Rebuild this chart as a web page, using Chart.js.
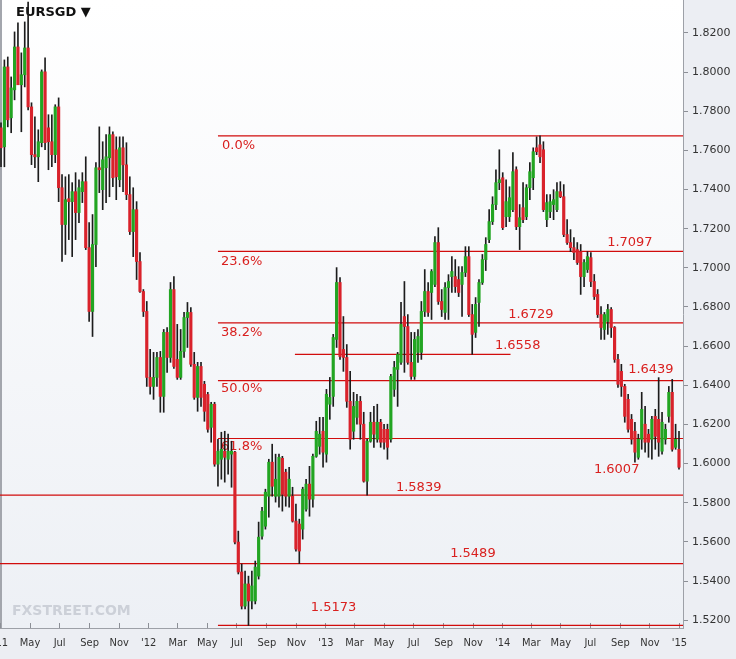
<!DOCTYPE html>
<html><head><meta charset="utf-8">
<script src="https://cdn.jsdelivr.net/npm/chart.js@4.4.1/dist/chart.umd.min.js"></script>
<style>html,body{margin:0;padding:0;background:#eceef3;overflow:hidden}canvas{display:block}</style>
</head><body>
<canvas id="c" width="736" height="659"></canvas>
<script>
// ---- data (weekly EUR/SGD candles) ----
const startDate = '2011-03-02';
const opens = [
1.7715,1.7618,1.8026,1.7766,1.7909,1.8128,1.7935,1.7986,1.8123,1.7822,
1.7578,1.7567,1.7639,1.8001,1.7715,1.7644,1.7578,1.7822,1.7409,1.7221,
1.7353,1.7338,1.7389,1.7282,1.7389,1.7440,1.7103,1.6777,1.7119,1.7511,
1.7399,1.7511,1.7562,1.7680,1.7603,1.7450,1.7613,1.7526,1.7374,1.7185,
1.7297,1.7032,1.6879,1.6777,1.6440,1.6394,1.6440,1.6542,1.6343,1.6670,
1.6542,1.6889,1.6532,1.6440,1.6573,1.6746,1.6772,1.6507,1.6338,1.6496,
1.6405,1.6353,1.6185,1.6303,1.5997,1.6022,1.6063,1.6022,1.6048,1.6058,
1.5599,1.5446,1.5272,1.5385,1.5298,1.5298,1.5425,1.5629,1.5680,1.5833,
1.6007,1.5833,1.5833,1.6027,1.5956,1.5833,1.5833,1.5706,1.5691,1.5665,
1.5767,1.5895,1.5818,1.6037,1.6088,1.6165,1.6048,1.6303,1.6343,1.6634,
1.6925,1.6583,1.6542,1.6318,1.6165,1.6236,1.6318,1.6201,1.5910,1.6114,
1.6211,1.6124,1.6211,1.6175,1.6175,1.6124,1.6379,1.6481,1.6517,1.6751,
1.6700,1.6517,1.6445,1.6568,1.6568,1.6777,1.6879,1.6874,1.6915,1.7129,
1.6828,1.6772,1.6899,1.6955,1.6955,1.6940,1.6915,1.6976,1.7057,1.6761,
1.6670,1.6823,1.6925,1.7042,1.7144,1.7236,1.7323,1.7435,1.7460,1.7261,
1.7261,1.7297,1.7501,1.7210,1.7307,1.7261,1.7409,1.7460,1.7613,1.7628,
1.7603,1.7246,1.7287,1.7323,1.7297,1.7389,1.7363,1.7170,1.7129,1.7103,
1.7093,1.7083,1.6955,1.6991,1.7052,1.6930,1.6864,1.6761,1.6685,1.6726,
1.6787,1.6695,1.6532,1.6471,1.6394,1.6328,1.6226,1.6165,1.6032,1.6124,
1.6201,1.6150,1.6124,1.6241,1.6226,1.6063,1.6124,1.6241,1.6364,1.6083,
1.6073];
const highs = [
1.7741,1.8062,1.8077,1.7975,1.8205,1.8251,1.8098,1.8256,1.8358,1.7843,
1.7771,1.7705,1.8011,1.8072,1.7782,1.7782,1.7833,1.7868,1.7476,1.7465,
1.7476,1.7435,1.7486,1.7450,1.7486,1.7567,1.7231,1.7272,1.7537,1.7720,
1.7644,1.7680,1.7720,1.7695,1.7669,1.7669,1.7669,1.7639,1.7465,1.7409,
1.7338,1.7078,1.6889,1.6828,1.6583,1.6568,1.6568,1.6573,1.6685,1.6695,
1.6925,1.6955,1.6711,1.6685,1.6772,1.6823,1.6797,1.6568,1.6517,1.6517,
1.6420,1.6364,1.6313,1.6313,1.6124,1.6160,1.6165,1.6150,1.6114,1.6063,
1.5655,1.5487,1.5451,1.5425,1.5451,1.5502,1.5701,1.5777,1.5869,1.6022,
1.6099,1.6048,1.6048,1.6037,1.5971,1.5981,1.5879,1.5793,1.5716,1.5879,
1.5920,1.5986,1.6048,1.6216,1.6236,1.6236,1.6379,1.6440,1.6660,1.7001,
1.6950,1.6751,1.6608,1.6471,1.6364,1.6354,1.6343,1.6262,1.6124,1.6262,
1.6292,1.6303,1.6226,1.6201,1.6201,1.6456,1.6522,1.6568,1.6823,1.6930,
1.6761,1.6670,1.6670,1.6685,1.6828,1.6991,1.6925,1.6991,1.7159,1.7205,
1.6889,1.6925,1.6965,1.7057,1.7042,1.7006,1.7006,1.7108,1.7108,1.6813,
1.6848,1.6940,1.7068,1.7154,1.7297,1.7363,1.7501,1.7603,1.7486,1.7450,
1.7414,1.7588,1.7516,1.7323,1.7435,1.7425,1.7537,1.7613,1.7669,1.7674,
1.7644,1.7374,1.7374,1.7399,1.7435,1.7440,1.7425,1.7246,1.7195,1.7154,
1.7129,1.7119,1.7042,1.7083,1.7078,1.6966,1.6889,1.6802,1.6772,1.6813,
1.6797,1.6700,1.6558,1.6507,1.6405,1.6354,1.6251,1.6211,1.6150,1.6364,
1.6292,1.6175,1.6241,1.6277,1.6439,1.6262,1.6201,1.6394,1.6430,1.6201,
1.6165];
const lows = [
1.7516,1.7516,1.7720,1.7690,1.7858,1.7935,1.7695,1.7924,1.7807,1.7527,
1.7511,1.7440,1.7618,1.7603,1.7501,1.7516,1.7537,1.7338,1.7032,1.7068,
1.7144,1.7057,1.7144,1.7231,1.7333,1.7093,1.6726,1.6649,1.7006,1.7384,
1.7297,1.7333,1.7363,1.7414,1.7348,1.7414,1.7389,1.7348,1.7170,1.7057,
1.6940,1.6874,1.6751,1.6394,1.6354,1.6328,1.6394,1.6262,1.6262,1.6466,
1.6517,1.6486,1.6430,1.6430,1.6542,1.6593,1.6496,1.6328,1.6267,1.6292,
1.6216,1.6160,1.6109,1.5986,1.5884,1.5920,1.5905,1.5946,1.5879,1.5589,
1.5436,1.5257,1.5257,1.5173,1.5257,1.5283,1.5410,1.5614,1.5665,1.5726,
1.5833,1.5803,1.5777,1.5757,1.5782,1.5777,1.5701,1.5553,1.5489,1.5614,
1.5757,1.5731,1.5777,1.6032,1.6048,1.5981,1.6007,1.6226,1.6292,1.6593,
1.6532,1.6471,1.6287,1.6073,1.6124,1.6201,1.6124,1.5905,1.5839,1.6109,
1.6083,1.6109,1.6083,1.6073,1.6022,1.6109,1.6343,1.6292,1.6507,1.6466,
1.6507,1.6430,1.6430,1.6517,1.6532,1.6751,1.6751,1.6736,1.6904,1.6813,
1.6751,1.6736,1.6736,1.6874,1.6874,1.6853,1.6751,1.6955,1.6751,1.6558,
1.6644,1.6700,1.6915,1.6986,1.7129,1.7221,1.7297,1.7399,1.7195,1.7210,
1.7236,1.7287,1.7195,1.7093,1.7231,1.7246,1.7348,1.7399,1.7578,1.7537,
1.7287,1.7210,1.7256,1.7246,1.7287,1.7358,1.7159,1.7119,1.7083,1.7042,
1.7017,1.6864,1.6904,1.6976,1.6904,1.6838,1.6746,1.6634,1.6634,1.6660,
1.6644,1.6517,1.6389,1.6343,1.6211,1.6160,1.6099,1.6007,1.6022,1.6073,
1.6058,1.6032,1.6022,1.6073,1.6037,1.6048,1.6099,1.6211,1.6063,1.6073,
1.5971];
const closes = [
1.7613,1.8026,1.7756,1.7919,1.8128,1.7935,1.7986,1.8123,1.7822,1.7578,
1.7567,1.7644,1.8001,1.7639,1.7644,1.7578,1.7822,1.7409,1.7221,1.7348,
1.7338,1.7389,1.7282,1.7409,1.7440,1.7103,1.6777,1.7119,1.7511,1.7501,
1.7552,1.7567,1.7680,1.7460,1.7465,1.7613,1.7526,1.7374,1.7185,1.7297,
1.7032,1.6879,1.6777,1.6440,1.6394,1.6440,1.6542,1.6343,1.6670,1.6542,
1.6889,1.6496,1.6440,1.6573,1.6746,1.6772,1.6507,1.6338,1.6496,1.6338,
1.6267,1.6175,1.6303,1.5997,1.6063,1.6073,1.6032,1.6063,1.6063,1.5599,
1.5446,1.5272,1.5385,1.5298,1.5375,1.5471,1.5624,1.5757,1.5854,1.6007,
1.5884,1.5920,1.6032,1.5843,1.5833,1.5920,1.5706,1.5563,1.5553,1.5869,
1.5895,1.5818,1.6037,1.6165,1.6150,1.6058,1.6354,1.6338,1.6644,1.6925,
1.6547,1.6542,1.6318,1.6124,1.6292,1.6318,1.6201,1.5910,1.6114,1.6211,
1.6150,1.6211,1.6109,1.6109,1.6083,1.6445,1.6491,1.6557,1.6711,1.6700,
1.6517,1.6445,1.6634,1.6649,1.6777,1.6879,1.6772,1.6981,1.7129,1.6828,
1.6787,1.6899,1.6930,1.6981,1.6904,1.6874,1.6976,1.7057,1.6761,1.6660,
1.6813,1.6925,1.7042,1.7119,1.7236,1.7323,1.7435,1.7450,1.7205,1.7338,
1.7358,1.7491,1.7210,1.7256,1.7246,1.7409,1.7491,1.7593,1.7593,1.7567,
1.7297,1.7333,1.7338,1.7348,1.7389,1.7363,1.7170,1.7129,1.7103,1.7078,
1.7027,1.6955,1.7027,1.7057,1.6930,1.6853,1.6761,1.6695,1.6761,1.6787,
1.6695,1.6532,1.6405,1.6394,1.6241,1.6175,1.6124,1.6058,1.6124,1.6277,
1.6109,1.6109,1.6226,1.6139,1.6109,1.6211,1.6175,1.6364,1.6073,1.6124,
1.5981];

// axis ticks
const yTicks = [1.52,1.54,1.56,1.58,1.60,1.62,1.64,1.66,1.68,1.70,1.72,1.74,1.76,1.78,1.80,1.82];
const tickDates = ['2011-03-01','2011-05-01','2011-07-01','2011-09-01','2011-11-01','2012-01-01',
  '2012-03-01','2012-05-01','2012-07-01','2012-09-01','2012-11-01','2013-01-01',
  '2013-03-01','2013-05-01','2013-07-01','2013-09-01','2013-11-01','2014-01-01',
  '2014-03-01','2014-05-01','2014-07-01','2014-09-01','2014-11-01','2015-01-01'];
const tickLabels = ["'11",'May','Jul','Sep','Nov',"'12",'Mar','May','Jul','Sep','Nov',"'13",
  'Mar','May','Jul','Sep','Nov',"'14",'Mar','May','Jul','Sep','Nov',"'15"];

// horizontal level lines (Fibonacci 0..100% and support levels)
const lineLevels = [1.7674, 1.7084, 1.6719, 1.6424, 1.6128, 1.5173, 1.6558, 1.5839, 1.5489];
const lineFrom   = [64, 64, 64, 64, 64, 64, 86.7, -1, -1];
const lineTo     = [202, 202, 202, 202, 202, 202, 150.3, 202, 202];

// text tags: [text, week index, price]
const tagTexts  = ['0.0%','23.6%','38.2%','50.0%','61.8%','1.7097','1.6729','1.6558','1.6439','1.6007','1.5839','1.5489','1.5173'];
const tagWeeks  = [65.2, 64.9, 64.9, 64.9, 64.9, 178.8, 149.6, 145.7, 185.0, 174.9, 116.5, 132.5, 91.4];
const tagPrices = [1.7623, 1.7032, 1.6670, 1.6384, 1.6088, 1.7129, 1.6761, 1.6603, 1.6481, 1.5971, 1.5879, 1.5538, 1.5262];

const xMin = -0.295, xMax = 201.18, yMin = 1.5160, yMax = 1.8368;
// ----------------------------------------------------------------

const DAY = 86400000;
const weekOf = d => (Date.parse(d) - Date.parse(startDate)) / (7 * DAY);
const idx = opens.map((_, i) => i);
const UP = '#22a522', DOWN = '#d9222b';

const datasets = [
  { type: 'bar', label: 'body', order: 0, grouped: false, maxBarThickness: 2.5,
    barPercentage: 1, categoryPercentage: 1, minBarLength: 1,
    data: idx.map(i => ({ x: i, y: [opens[i], closes[i]] })),
    backgroundColor: c => (closes[c.dataIndex] >= opens[c.dataIndex] ? UP : DOWN) },
  { type: 'bar', label: 'wick', order: 1, grouped: false, maxBarThickness: 1,
    barPercentage: 1, categoryPercentage: 1,
    data: idx.map(i => ({ x: i, y: [lows[i], highs[i]] })),
    backgroundColor: '#1c1c1c' }
];
lineLevels.forEach((lv, k) => datasets.push({
  type: 'line', order: 2, data: [{ x: lineFrom[k], y: lv }, { x: lineTo[k], y: lv }],
  borderColor: '#d10c0c', borderWidth: 1.2, pointRadius: 0, fill: false
}));

const deco = {
  id: 'deco',
  beforeDraw(chart) {
    const { ctx, chartArea: a, width, height } = chart;
    ctx.save();
    ctx.fillStyle = '#eceef3';
    ctx.fillRect(0, 0, width, height);
    const g = ctx.createLinearGradient(0, a.top, 0, a.bottom);
    g.addColorStop(0, '#ffffff');
    g.addColorStop(1, '#edf0f5');
    ctx.fillStyle = g;
    ctx.fillRect(a.left, a.top, a.right - a.left, a.bottom - a.top);
    ctx.fillStyle = '#a3a6ad';
    ctx.fillRect(0, 0, 2, a.bottom);
    ctx.restore();
  },
  beforeDatasetsDraw(chart) {
    const { ctx, scales: { x, y } } = chart;
    ctx.save();
    ctx.font = 'bold 14px "DejaVu Sans"';
    ctx.fillStyle = '#ccd0d8';
    ctx.textBaseline = 'middle';
    ctx.textAlign = 'left';
    ctx.fillText('FXSTREET.COM', 12, 611);
    ctx.font = '13px "DejaVu Sans"';
    ctx.fillStyle = '#d9201f';
    tagTexts.forEach((t, k) => {
      ctx.fillText(t, x.getPixelForValue(tagWeeks[k]), y.getPixelForValue(tagPrices[k]));
    });
    ctx.font = 'bold 13px "DejaVu Sans"';
    ctx.fillStyle = '#111';
    ctx.fillText('EURSGD \u25BC', 16, 13);
    ctx.restore();
  }
};

new Chart(document.getElementById('c'), {
  type: 'bar',
  data: { datasets },
  plugins: [deco],
  options: {
    responsive: false, animation: false, devicePixelRatio: 1,
    layout: { padding: 0 },
    plugins: { legend: { display: false }, tooltip: { enabled: false } },
    scales: {
      x: {
        type: 'linear', min: xMin, max: xMax, offset: false,
        grid: { drawOnChartArea: false, drawTicks: true, tickLength: -5, color: '#8c8f96', offset: false },
        border: { display: true, color: '#9da0a7' },
        ticks: { autoSkip: false, maxRotation: 0, padding: 14, color: '#333',
          font: { family: '"DejaVu Sans Condensed", "DejaVu Sans"', size: 11 },
          callback: (v, i) => tickLabels[i] },
        afterBuildTicks: s => { s.ticks = tickDates.map(d => ({ value: weekOf(d) })); },
        afterFit: s => { s.height = 31; s.paddingLeft = 0; s.paddingRight = 0; }
      },
      y: {
        position: 'right', min: yMin, max: yMax,
        grid: { drawOnChartArea: false, drawTicks: true, tickLength: 5, color: '#8c8f96' },
        border: { display: true, color: '#9da0a7' },
        ticks: { padding: 4, color: '#333', font: { family: '"DejaVu Sans"', size: 11 },
          callback: v => Number(v).toFixed(4) },
        afterBuildTicks: s => { s.ticks = yTicks.map(v => ({ value: v })); },
        afterFit: s => { s.width = 53; s.paddingTop = 0; s.paddingBottom = 0; }
      }
    }
  }
});
</script>
</body></html>
